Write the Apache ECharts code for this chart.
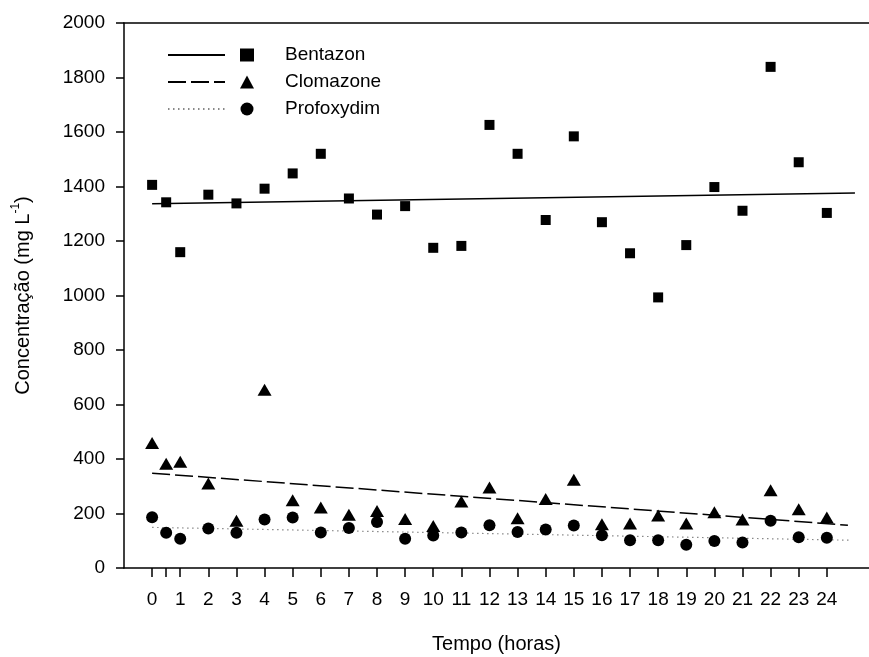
<!DOCTYPE html>
<html>
<head>
<meta charset="utf-8">
<script src="https://cdn.jsdelivr.net/npm/echarts@6/dist/echarts.min.js"></script>
<style>
  html, body { margin: 0; padding: 0; background: #fff; }
  #chart { width: 869px; height: 657px; }
</style>
</head>
<body>
<div id="chart"></div>
<script>
// sampling times (horas)
const hours = [0, 0.5, 1, 2, 3, 4, 5, 6, 7, 8, 9, 10, 11, 12, 13, 14, 15, 16, 17, 18, 19, 20, 21, 22, 23, 24];
const tickHours = [0, 0.5, 1, 2, 3, 4, 5, 6, 7, 8, 9, 10, 11, 12, 13, 14, 15, 16, 17, 18, 19, 20, 21, 22, 23, 24];
const labelHours = [0, 1, 2, 3, 4, 5, 6, 7, 8, 9, 10, 11, 12, 13, 14, 15, 16, 17, 18, 19, 20, 21, 22, 23, 24];

const bentazon = [1406, 1342, 1159, 1370, 1338, 1392, 1448, 1520, 1356, 1297, 1328, 1175, 1182,
  1626, 1520, 1277, 1584, 1269, 1155, 993, 1185, 1398, 1311, 1839, 1489, 1303];
const clomazone = [459, 383, 390, 310, 173, 654, 249, 222, 195, 209, 180, 154, 244,
  295, 183, 253, 324, 161, 163, 193, 163, 205, 178, 285, 216, 185];
const profoxydim = [186, 129, 107, 145, 129, 178, 185, 130, 147, 169, 107, 119, 130,
  157, 132, 141, 156, 120, 102, 102, 85, 99, 94, 173, 113, 111];

// fitted lines, [hour, value] at both ends
const bentazonFit = [[0, 1337], [25, 1376]];
const clomazoneFit = [[0, 348], [24.75, 157]];
const profoxydimFit = [[0, 149], [24.8, 102]];

const font = "'Liberation Sans', Arial, sans-serif";
const zip = vals => hours.map((h, i) => [h, vals[i]]);

const chart = echarts.init(document.getElementById('chart'));

const option = {
  backgroundColor: '#fff',
  animation: false,
  textStyle: { fontFamily: font, color: '#000' },
  grid: { left: 124, right: 0, top: 23, bottom: 89, outerBoundsMode: 'none', containLabel: false },
  legend: [
    {
      // line samples only
      data: ['Bentazon fit', 'Clomazone fit', 'Profoxydim fit'],
      orient: 'vertical',
      left: 162,
      top: 40,
      itemWidth: 57,
      itemHeight: 12,
      itemGap: 7,
      selectedMode: false,
      formatter: () => ' ',
      itemStyle: { color: 'rgba(0,0,0,0)', borderWidth: 0, opacity: 0 },
      textStyle: { fontSize: 19, lineHeight: 20, fontFamily: font }
    },
    {
      data: ['Bentazon', 'Clomazone', 'Profoxydim'],
      orient: 'vertical',
      left: 235,
      top: 40,
      itemWidth: 14,
      itemHeight: 13,
      itemGap: 7,
      selectedMode: false,
      textStyle: { fontSize: 19, lineHeight: 20, color: '#000', fontFamily: font, padding: [0, 0, 0, 26] }
    }
  ],
  xAxis: [
    {
      type: 'value',
      min: -1,
      max: 25.5,
      name: 'Tempo (horas)',
      nameLocation: 'middle',
      nameGap: 66,
      nameTextStyle: { fontSize: 20, color: '#000', fontFamily: font },
      splitLine: { show: false },
      axisLine: { onZero: false, lineStyle: { color: '#000', width: 1.5 } },
      axisTick: { customValues: tickHours, length: 9, lineStyle: { color: '#000', width: 1.5 } },
      axisLabel: { customValues: labelHours, fontSize: 19, color: '#000', margin: 22, fontFamily: font }
    },
    {
      // top frame line
      type: 'value',
      position: 'top',
      min: -1,
      max: 25.5,
      splitLine: { show: false },
      axisLine: { show: true, onZero: false, lineStyle: { color: '#000', width: 1.5 } },
      axisTick: { show: false },
      axisLabel: { show: false }
    }
  ],
  yAxis: {
    type: 'value',
    min: 0,
    max: 2000,
    interval: 200,
    name: 'Concentração (mg L{sup|-1})',
    nameLocation: 'middle',
    nameGap: 88,
    nameTextStyle: {
      fontSize: 20,
      color: '#000',
      fontFamily: font,
      lineHeight: 26,
      rich: {
        sup: { fontSize: 12, lineHeight: 26, verticalAlign: 'top', padding: [0, 0, 12, 0], fontFamily: font, color: '#000' }
      }
    },
    splitLine: { show: false },
    axisLine: { show: true, onZero: false, lineStyle: { color: '#000', width: 1.5 } },
    axisTick: { show: true, length: 8, lineStyle: { color: '#000', width: 1.5 } },
    axisLabel: { fontSize: 19, color: '#000', margin: 19, fontFamily: font, formatter: v => String(v) }
  },
  series: [
    {
      name: 'Bentazon fit',
      type: 'line',
      data: bentazonFit,
      symbol: 'none',
      z: 2,
      lineStyle: { color: '#000', width: 1.5, type: 'solid' },
      itemStyle: { color: '#000' }
    },
    {
      name: 'Clomazone fit',
      type: 'line',
      data: clomazoneFit,
      symbol: 'none',
      z: 2,
      lineStyle: { color: '#000', width: 1.5, type: [18, 5] },
      itemStyle: { color: '#000' }
    },
    {
      name: 'Profoxydim fit',
      type: 'line',
      data: profoxydimFit,
      symbol: 'none',
      z: 2,
      lineStyle: { color: '#888', width: 1.2, type: [1.5, 3.5] },
      itemStyle: { color: '#888' }
    },
    {
      name: 'Bentazon',
      type: 'scatter',
      data: zip(bentazon),
      symbol: 'rect',
      symbolSize: 10,
      z: 3,
      itemStyle: { color: '#000', opacity: 1 }
    },
    {
      name: 'Clomazone',
      type: 'scatter',
      data: zip(clomazone),
      symbol: 'triangle',
      symbolSize: [14, 12],
      z: 3,
      itemStyle: { color: '#000', opacity: 1 }
    },
    {
      name: 'Profoxydim',
      type: 'scatter',
      data: zip(profoxydim),
      symbol: 'circle',
      symbolSize: 12,
      z: 3,
      itemStyle: { color: '#000', opacity: 1 }
    }
  ]
};

chart.setOption(option);
window.addEventListener('resize', () => chart.resize());
</script>
</body>
</html>
